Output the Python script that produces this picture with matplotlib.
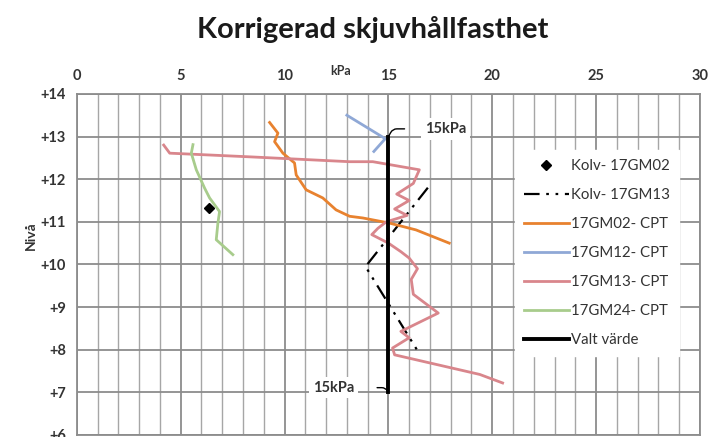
import matplotlib.pyplot as plt
from matplotlib.ticker import MultipleLocator

plt.rcParams['font.family'] = ['Lato', 'DejaVu Sans']

# Kolv-17GM02 (single point)
kolv02_x = [6.36]
kolv02_y = [11.32]

# Kolv-17GM13 (dash-dot)
kolv13_x = [16.9, 13.9, 16.5]
kolv13_y = [11.8, 9.95, 7.9]

# 17GM02-CPT
gm02_x = [9.28, 9.68, 9.52, 9.92, 10.48, 10.56, 11.04, 11.84, 12.48, 13.13, 13.77, 15.05, 16.33, 17.93]
gm02_y = [13.33, 13.08, 12.88, 12.61, 12.38, 12.10, 11.75, 11.56, 11.28, 11.13, 11.09, 10.97, 10.81, 10.50]

# 17GM12-CPT
gm12_x = [13.0, 14.85, 14.3]
gm12_y = [13.5, 12.95, 12.65]

# 17GM13-CPT
gm13_x = [4.18, 4.47, 8.5, 13.13, 14.25, 16.49, 16.2, 15.4, 16.0, 15.3, 15.9, 14.9, 14.5, 14.2,
          15.0, 15.6, 16.0, 16.4, 16.1, 16.2, 17.4, 15.6, 16.0, 15.2, 15.3, 19.4, 20.5]
gm13_y = [12.8, 12.61, 12.52, 12.41, 12.41, 12.22, 11.9, 11.65, 11.5, 11.3, 11.15, 11.0, 10.85, 10.7,
          10.5, 10.3, 10.15, 9.9, 9.65, 9.3, 8.86, 8.43, 8.28, 8.04, 7.88, 7.42, 7.22]

# 17GM24-CPT
gm24_x = [5.59, 5.51, 5.75, 6.15, 6.39, 6.87, 6.79, 6.71, 7.51]
gm24_y = [12.81, 12.61, 12.22, 11.79, 11.56, 11.24, 10.97, 10.58, 10.23]

# Valt värde
valt_x = [15, 15]
valt_y = [13, 7]

y_ticks = [6, 7, 8, 9, 10, 11, 12, 13, 14]
y_labels = ['+6', '+7', '+8', '+9', '+10', '+11', '+12', '+13', '+14']
x_ticks = [0, 5, 10, 15, 20, 25, 30]

fig = plt.figure(figsize=(7.12, 4.37), dpi=100)
ax = fig.add_axes([0.108, 0.0046, 0.875, 0.7805])

ax.set_xlim(0, 30)
ax.set_ylim(6, 14)
ax.xaxis.set_minor_locator(MultipleLocator(1))
ax.set_xticks(x_ticks)
ax.set_xticklabels([str(v) for v in x_ticks])
ax.set_yticks(y_ticks)
ax.set_yticklabels(y_labels)
ax.xaxis.tick_top()
ax.tick_params(axis='both', which='both', length=0, labelsize=10.5, pad=8, colors='#333333')
for lab in ax.get_xticklabels() + ax.get_yticklabels():
    lab.set_fontweight('bold')

ax.grid(which='major', axis='both', color='#8c8c8c', lw=1.3)
ax.grid(which='minor', axis='x', color='#a6a6a6', lw=1.0)
ax.set_axisbelow(True)
for s in ax.spines.values():
    s.set_color('#8c8c8c')
    s.set_linewidth(1.3)

ax.plot(kolv02_x, kolv02_y, 'D', color='black', ms=5.5, ls='none', label='Kolv- 17GM02', zorder=5)
ax.plot(kolv13_x, kolv13_y, color='black', lw=1.6, dashes=(7, 3, 1.2, 3, 1.2, 3), label='Kolv- 17GM13')
ax.plot(gm02_x, gm02_y, color='#E8822F', lw=2.0, label='17GM02- CPT')
ax.plot(gm12_x, gm12_y, color='#8FA8D6', lw=2.0, label='17GM12- CPT')
ax.plot(gm13_x, gm13_y, color='#D9868C', lw=2.0, label='17GM13- CPT')
ax.plot(gm24_x, gm24_y, color='#A8CC8C', lw=2.0, label='17GM24- CPT')
ax.plot(valt_x, valt_y, color='black', lw=2.8, label='Valt värde', zorder=4)

# 15kPa labels with leader lines
ax.annotate('15kPa', xy=(15, 13), xytext=(17.75, 13.18), fontsize=10.5, fontweight='bold',
            color='#333333', ha='center', va='center',
            bbox=dict(boxstyle='square,pad=0.25', fc='white', ec='none'),
            arrowprops=dict(arrowstyle='-', color='black', lw=1.0,
                            connectionstyle='angle,angleA=0,angleB=60,rad=4',
                            shrinkA=12, shrinkB=0))
ax.annotate('15kPa', xy=(15, 7), xytext=(12.35, 7.11), fontsize=10.5, fontweight='bold',
            color='#333333', ha='center', va='center',
            bbox=dict(boxstyle='square,pad=0.25', fc='white', ec='none'),
            arrowprops=dict(arrowstyle='-', color='black', lw=1.0,
                            connectionstyle='angle,angleA=0,angleB=-60,rad=4',
                            shrinkA=14, shrinkB=0))

leg = ax.legend(loc='upper left', bbox_to_anchor=(0.703, 0.835), frameon=True, fancybox=False,
                framealpha=1, edgecolor='white', fontsize=10.8, handlelength=3.0,
                labelspacing=1.0, handletextpad=0.15, borderpad=0.6, borderaxespad=0)
for t in leg.get_texts():
    t.set_color('#333333')

fig.text(0.523, 0.932, 'Korrigerad skjuvhållfasthet', ha='center', va='center',
         fontsize=21, fontweight='bold', color='#1a1a1a')
fig.text(0.478, 0.837, 'kPa', ha='center', va='center', fontsize=9, fontweight='bold', color='#333333')
fig.text(0.044, 0.46, 'Nivå', ha='center', va='center', rotation=90, fontsize=10,
         fontweight='bold', color='#333333')

fig.savefig('out.png', dpi=100)
